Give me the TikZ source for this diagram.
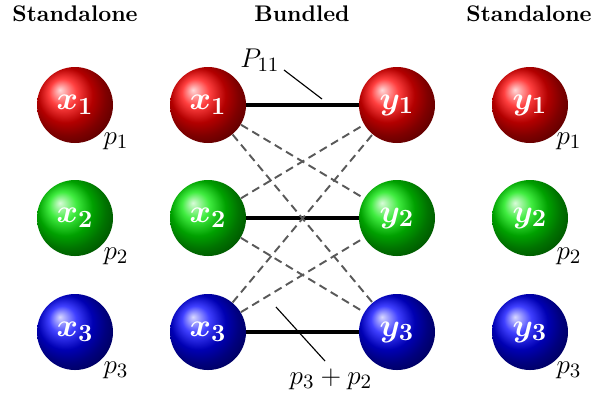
\documentclass[tikz,border=0pt]{standalone}
\usepackage{bm}
\begin{document}
\begin{tikzpicture}[x=0.4425pt,y=-0.4425pt,
  ball/.style={circle,minimum size=76*0.4425pt,inner sep=0pt,text=white,font=\fontsize{15.5}{18}\selectfont},
  title/.style={font=\normalsize\bfseries},
  lab/.style={font=\fontsize{13.2}{15}\selectfont},
  bundle/.style={line width=1.8pt,black},
  cross/.style={dash pattern=on 3.6pt off 2.2pt,line width=0.85pt,black!65},
  pointer/.style={line width=0.5pt,black}]
\useasboundingbox (0,0) rectangle (613,394);
% titles
\node[title] (t1) at (75,14) {Standalone};
\node[title] (t2) at (302,14) {Bundled};
\node[title] (t3) at (529,14) {Standalone};
% balls
\node[ball,ball color=red] (sx1) at (75,105) {$\bm{x_1}$};
\node[ball,ball color=green!90!black] (sx2) at (75,218) {$\bm{x_2}$};
\node[ball,ball color=blue] (sx3) at (75,332) {$\bm{x_3}$};
\node[ball,ball color=red] (bx1) at (208,105) {$\bm{x_1}$};
\node[ball,ball color=green!90!black] (bx2) at (208,218) {$\bm{x_2}$};
\node[ball,ball color=blue] (bx3) at (208,332) {$\bm{x_3}$};
\node[ball,ball color=red] (by1) at (397,105) {$\bm{y_1}$};
\node[ball,ball color=green!90!black] (by2) at (397,218) {$\bm{y_2}$};
\node[ball,ball color=blue] (by3) at (397,332) {$\bm{y_3}$};
\node[ball,ball color=red] (sy1) at (530,105) {$\bm{y_1}$};
\node[ball,ball color=green!90!black] (sy2) at (530,218) {$\bm{y_2}$};
\node[ball,ball color=blue] (sy3) at (530,332) {$\bm{y_3}$};
% connectors
\draw[bundle] (bx1) -- (by1);
\draw[bundle] (bx2) -- (by2);
\draw[bundle] (bx3) -- (by3);
\draw[cross] (bx1) -- (by2);
\draw[cross] (bx1) -- (by3);
\draw[cross] (bx2) -- (by1);
\draw[cross] (bx2) -- (by3);
\draw[cross] (bx3) -- (by1);
\draw[cross] (bx3) -- (by2);
% probability labels
\node[lab] (p1) at (116,141) {$p_1$};
\node[lab] (p2) at (116,256) {$p_2$};
\node[lab] (p3) at (116,370) {$p_3$};
\node[lab] (q1) at (569,141) {$p_1$};
\node[lab] (q2) at (569,256) {$p_2$};
\node[lab] (q3) at (569,370) {$p_3$};
% annotations
\node[lab] (P11) at (260,60) {$P_{11}$};
\coordinate (a1s) at (284,70);
\coordinate (a1e) at (322,99);
\draw[pointer] (a1s) -- (a1e);
\node[lab] (p32) at (331,379) {$p_3 + p_2$};
\coordinate (a2s) at (276,307);
\coordinate (a2e) at (325,361);
\draw[pointer] (a2s) -- (a2e);
\end{tikzpicture}
\end{document}
